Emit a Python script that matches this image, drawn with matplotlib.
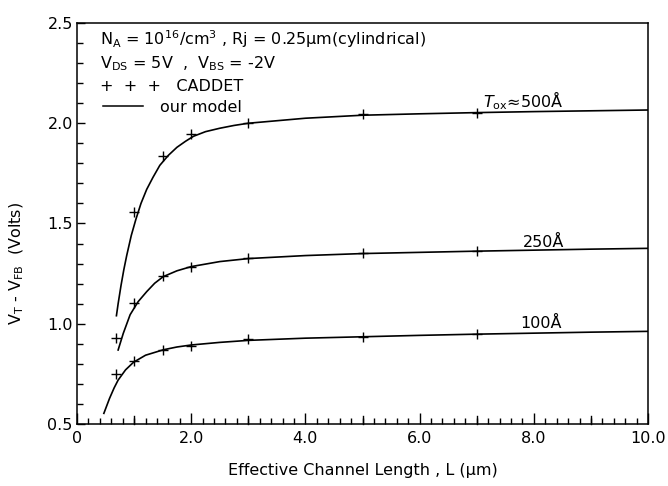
import matplotlib
matplotlib.use("Agg")
import matplotlib.pyplot as plt
from matplotlib.ticker import MultipleLocator, FixedLocator

plt.rcParams['font.family'] = ['DejaVu Sans']
plt.rcParams['mathtext.default'] = 'regular'

# model curves (solid lines)
L_mod_500 = [0.69, 0.72, 0.77, 0.82, 0.87, 0.95, 1.03, 1.12, 1.22, 1.33, 1.45, 1.6, 1.75, 1.9, 2.04,
             2.25, 2.5, 2.75, 3.0, 4.0, 5.0, 6.0, 7.0, 8.0, 9.0, 10.0]
V_mod_500 = [1.04, 1.10, 1.19, 1.27, 1.34, 1.44, 1.52, 1.60, 1.67, 1.73, 1.79, 1.84, 1.88, 1.91, 1.935,
             1.958, 1.975, 1.989, 2.0, 2.025, 2.04, 2.047, 2.053, 2.058, 2.062, 2.066]

L_mod_250 = [0.72, 0.81, 0.93, 1.07, 1.22, 1.36, 1.51, 1.75, 2.0, 2.5, 3.0, 4.0, 5.0, 6.0, 7.0, 8.0, 9.0, 10.0]
V_mod_250 = [0.869, 0.952, 1.045, 1.11, 1.16, 1.202, 1.235, 1.264, 1.285, 1.31, 1.325, 1.34, 1.35, 1.356, 1.362, 1.367, 1.372, 1.376]

L_mod_100 = [0.47, 0.57, 0.65, 0.72, 0.85, 0.99, 1.2, 1.51, 1.75, 2.0, 2.5, 3.0, 4.0, 5.0, 6.0, 7.0, 8.0, 9.0, 10.0]
V_mod_100 = [0.553, 0.628, 0.68, 0.719, 0.77, 0.808, 0.843, 0.870, 0.884, 0.894, 0.907, 0.917, 0.928, 0.935, 0.942, 0.948, 0.953, 0.958, 0.962]

# CADDET simulation points (+)
L_cad_500 = [1.0, 1.5, 2.0, 3.0, 5.0, 7.0]
V_cad_500 = [1.556, 1.837, 1.944, 2.003, 2.045, 2.053]

L_cad_250 = [0.68, 1.0, 1.5, 2.0, 3.0, 5.0, 7.0]
V_cad_250 = [0.927, 1.103, 1.238, 1.285, 1.326, 1.351, 1.361]

L_cad_100 = [0.68, 1.0, 1.5, 2.0, 3.0, 5.0, 7.0]
V_cad_100 = [0.751, 0.815, 0.870, 0.890, 0.922, 0.932, 0.950]

x_ticks = [0, 2, 4, 6, 8, 10]
x_tick_labels = ["0", "2.0", "4.0", "6.0", "8.0", "10.0"]
y_ticks = [0.5, 1.0, 1.5, 2.0, 2.5]
y_tick_labels = ["0.5", "1.0", "1.5", "2.0", "2.5"]

fig = plt.figure(figsize=(6.68, 4.86), dpi=100)
ax = fig.add_axes([0.1153, 0.1276, 0.8548, 0.8251])

for L, V in [(L_mod_500, V_mod_500), (L_mod_250, V_mod_250), (L_mod_100, V_mod_100)]:
    ax.plot(L, V, color="black", lw=1.2)
for L, V in [(L_cad_500, V_cad_500), (L_cad_250, V_cad_250), (L_cad_100, V_cad_100)]:
    ax.plot(L, V, ls="none", marker="+", ms=6.5, mew=1.0, color="black")

ax.set_xlim(0, 10)
ax.set_ylim(0.5, 2.5)

# ticks
ax.xaxis.set_major_locator(FixedLocator(x_ticks))
ax.set_xticklabels(x_tick_labels)
ax.xaxis.set_minor_locator(MultipleLocator(0.2))
ax.set_yticks(y_ticks)
ax.set_yticklabels(y_tick_labels)
ax.yaxis.set_minor_locator(MultipleLocator(0.1))
ax.tick_params(axis="both", which="both", direction="in", top=False, right=False,
               labelsize=11.5, width=1.0, colors="black")
ax.tick_params(axis="x", which="major", length=8, pad=5)
ax.tick_params(axis="x", which="minor", length=4)
ax.tick_params(axis="y", which="major", length=6, pad=3)
ax.tick_params(axis="y", which="minor", length=4)
# taller ticks at every integer micron
for xv in [1, 3, 5, 7, 9]:
    ax.plot([xv, xv], [0.5, 0.54], color="black", lw=1.0, clip_on=False)

for s in ax.spines.values():
    s.set_linewidth(1.1)

ax.set_xlabel("Effective Channel Length , L (\u03bcm)", fontsize=11.5, labelpad=12)
ax.set_ylabel("V$_T$ - V$_{FB}$  (Volts)", fontsize=11.5)
ax.yaxis.set_label_coords(-0.09, 0.40)

# legend block
ax.text(0.40, 2.39, "N$_A$ = 10$^{16}$/cm$^3$ , Rj = 0.25\u03bcm(cylindrical)", fontsize=11.5, va="baseline")
ax.text(0.40, 2.276, "V$_{DS}$ = 5V  ,  V$_{BS}$ = -2V", fontsize=11.5, va="baseline")
ax.text(0.40, 2.161, "+  +  +   CADDET", fontsize=11.5, va="baseline")
ax.plot([0.45, 1.15], [2.085, 2.085], color="black", lw=1.1)
ax.text(1.46, 2.056, "our model", fontsize=11.5, va="baseline")

# curve labels
ax.text(7.11, 2.081, "$\\mathit{T}_{ox}$\u2248500\u00c5", fontsize=11.5, va="baseline")
ax.text(7.81, 1.383, "250\u00c5", fontsize=11.5, va="baseline")
ax.text(7.76, 0.979, "100\u00c5", fontsize=11.5, va="baseline")

fig.savefig("out.png", dpi=100, facecolor="white")
